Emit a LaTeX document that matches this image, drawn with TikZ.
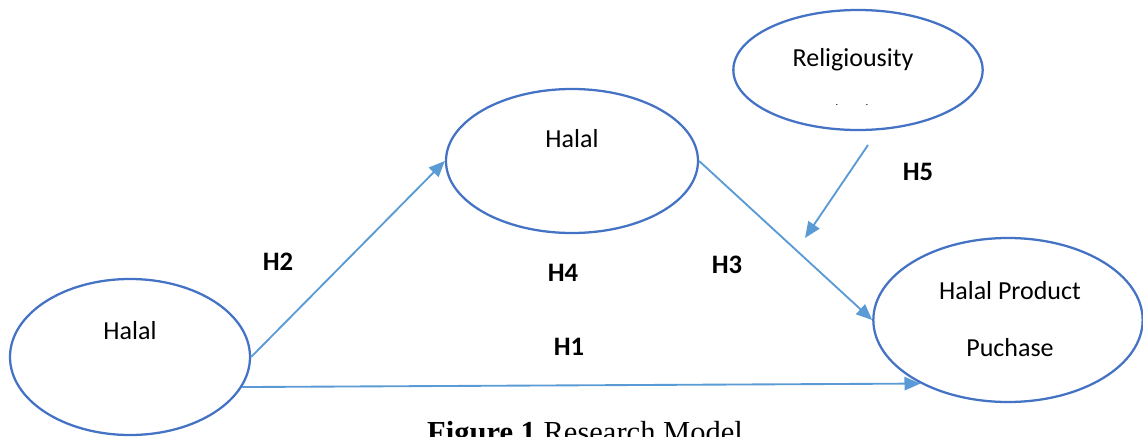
\documentclass[tikz,border=0pt]{standalone}
\usepackage{fontspec}
\setmainfont{Carlito}
\newfontfamily\capfont{Liberation Serif}
\usetikzlibrary{shapes.geometric,arrows.meta}
\definecolor{ovalBlue}{HTML}{4472C4}
\definecolor{arrowBlue}{HTML}{5B9BD5}

\begin{document}
\begin{tikzpicture}[x=0.75pt,y=-0.75pt]

        \tikzset{
            oval/.style={
                ellipse,
                draw=ovalBlue,
                line width=1.7pt,
                inner sep=0pt
            },
            txt/.style={anchor=base, font=\fontsize{19.5}{23}\selectfont},
            hyp/.style={font=\fontsize{20}{24}\selectfont\bfseries},
            link/.style={
                draw=arrowBlue,
                line width=1.4pt,
                -{Triangle[length=12pt,width=10pt]}
            }
        }

        \clip (0,0) rectangle (1143,436);

        % constructs
        \node[oval, minimum width=180pt, minimum height=117pt] (halalA) at (130,357) {};
        \node[oval, minimum width=189pt, minimum height=108pt] (halalB) at (572,161) {};
        \node[oval, minimum width=187pt, minimum height=90pt] (relig) at (858,70) {};
        \node[oval, minimum width=202pt, minimum height=123pt] (purchase) at (1008,320) {};

        \node[txt] (halalAtxt) at (130,339.5) {Halal};
        \node[txt] (halalBtxt) at (572,147.5) {Halal};
        \node[txt] (religtxt) at (853,66) {Religiousity};
        \begin{scope}
            \clip (740,0) rectangle (980,104);
            \node[txt] (religsub) at (852,123) {(Z2)};
        \end{scope}
        \node[txt] (purchtxtA) at (1010,299) {Halal Product};
        \node[txt] (purchtxtB) at (1010,356) {Puchase};

        % paths
        \coordinate (modStart) at (868,145);
        \coordinate (modEnd) at (805,238);

        \draw[link] (halalA.east) -- (halalB.west);
        \draw[link] (halalB.east) -- (purchase.west);
        \draw[link] (halalA.-15) -- (purchase.216);
        \draw[link] (modStart) -- (modEnd);

        \node[hyp] (hTwo) at (278,262) {H2};
        \node[hyp] (hFour) at (563,273) {H4};
        \node[hyp] (hThree) at (727,265) {H3};
        \node[hyp] (hFive) at (918,172) {H5};
        \node[hyp] (hOne) at (569,347) {H1};

        \node[anchor=base, font=\capfont\fontsize{22.9}{27}\selectfont] (caption) at (585,442) {\textbf{Figure 1} Research Model};

\end{tikzpicture}
\end{document}
